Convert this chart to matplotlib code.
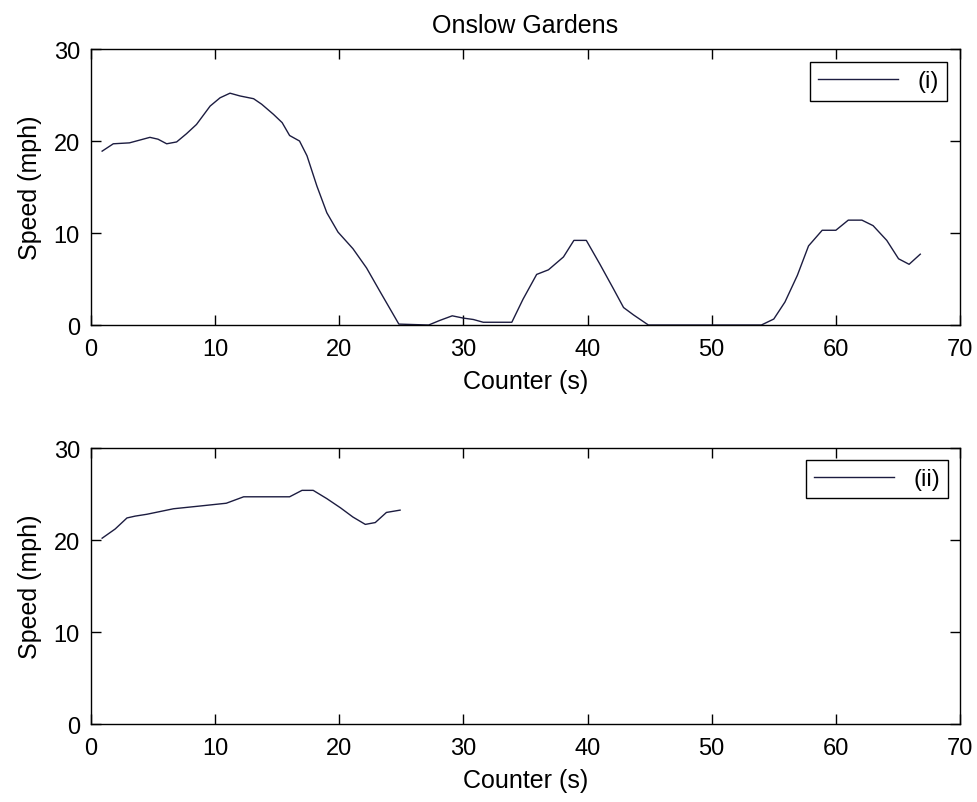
import numpy as np
import matplotlib
matplotlib.use("Agg")
import matplotlib.pyplot as plt

plt.rcParams['font.family'] = ['Liberation Sans', 'DejaVu Sans']

# run (i) - counter (s) vs speed (mph)
t1 = [0.9, 1.8, 3.1, 4.75, 5.4, 6.1, 6.9, 7.7, 8.5, 9.6, 10.4, 11.2, 12.0, 13.1,
      13.75, 14.7, 15.4, 16.0, 16.8, 17.4, 18.2, 19.0, 19.9, 21.1, 22.2, 23.3,
      24.8, 27.2, 28.1, 29.1, 30.0, 30.8, 31.6, 33.9, 34.8, 35.9, 36.85, 38.06,
      38.9, 39.9, 41.0, 42.1, 42.9, 43.7, 44.9, 54.0, 55.0, 55.9, 56.9, 57.8,
      58.9, 60.0, 61.0, 62.1, 63.0, 64.1, 65.05, 65.9, 66.8]
v1 = [18.9, 19.7, 19.8, 20.4, 20.2, 19.7, 19.9, 20.8, 21.8, 23.8, 24.7, 25.2,
      24.9, 24.6, 24.0, 22.9, 22.0, 20.6, 20.0, 18.4, 15.1, 12.2, 10.1, 8.3, 6.2,
      3.6, 0.1, 0.0, 0.5, 1.0, 0.75, 0.6, 0.3, 0.3, 2.8, 5.5, 6.0, 7.4, 9.2, 9.2,
      6.6, 3.9, 1.9, 1.1, 0.0, 0.0, 0.65, 2.5, 5.4, 8.6, 10.3, 10.3, 11.4, 11.4,
      10.8, 9.2, 7.2, 6.6, 7.7]

# run (ii)
t2 = [0.9, 1.95, 2.9, 3.56, 4.5, 6.65, 8.8, 10.9, 12.3, 16.0, 17.0, 17.9, 19.0,
      20.1, 21.1, 22.1, 22.9, 23.8, 24.9]
v2 = [20.2, 21.2, 22.4, 22.6, 22.8, 23.4, 23.7, 24.0, 24.7, 24.7, 25.4, 25.4,
      24.5, 23.5, 22.5, 21.7, 21.9, 23.0, 23.25]

line_col = '#1c1c40'
fs = 17      # tick labels, legend
fs_lab = 18  # axis labels, title

fig = plt.figure(figsize=(9.77, 8.03), dpi=100)
ax1 = fig.add_axes([0.0931, 0.594, 0.8895, 0.3437])
ax2 = fig.add_axes([0.0931, 0.0971, 0.8895, 0.3437])


def style(ax):
    ax.set_xlim(0, 70)
    ax.set_ylim(0, 30)
    ax.set_xticks(np.arange(0, 71, 10))
    ax.set_yticks(np.arange(0, 31, 10))
    ax.tick_params(direction='in', top=True, right=True, length=7,
                   width=1, labelsize=fs)
    ax.tick_params(axis='y', pad=8)
    ax.tick_params(axis='x', pad=9)
    for s in ax.spines.values():
        s.set_linewidth(1.0)
    ax.set_xlabel('Counter (s)', fontsize=fs_lab, labelpad=7)
    ax.set_ylabel('Speed (mph)', fontsize=fs_lab, labelpad=8)


def add_legend(ax, pad):
    leg = ax.legend(loc='upper right', fontsize=fs, handlelength=3.4,
                    fancybox=False, edgecolor='black', framealpha=1,
                    borderaxespad=pad, borderpad=0.35)
    leg.get_frame().set_linewidth(1.0)


ax1.plot(t1, v1, color=line_col, lw=1.0, label='(i)')
style(ax1)
ax1.set_title('Onslow Gardens', fontsize=fs_lab, pad=12)
add_legend(ax1, 0.55)

ax2.plot(t2, v2, color=line_col, lw=1.0, label='(ii)')
style(ax2)
add_legend(ax2, 0.5)

fig.savefig('out.png', dpi=100)
